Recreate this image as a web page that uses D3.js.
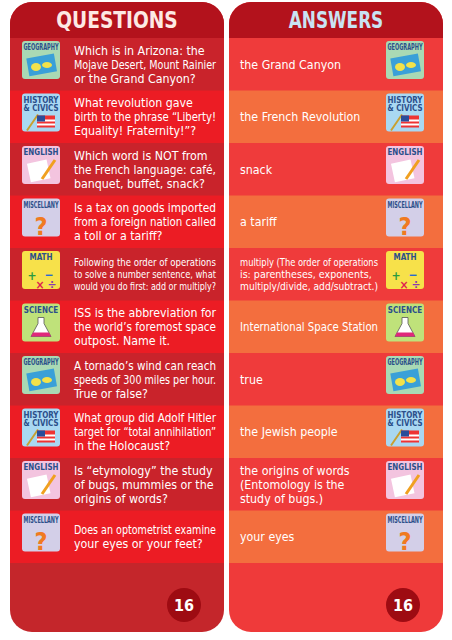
<!DOCTYPE html>
<html><head><meta charset="utf-8">
<script src="https://cdn.jsdelivr.net/npm/d3@7"></script>
<style>body{margin:0;background:#fff}text{font-family:"Liberation Sans Narrow","DejaVu Sans Condensed","Liberation Sans",sans-serif}</style>
</head><body>
<svg id="card" width="452" height="640"></svg>
<script>
var categories = ["GEOGRAPHY","HISTORY & CIVICS","ENGLISH","MISCELLANY","MATH","SCIENCE","GEOGRAPHY","HISTORY & CIVICS","ENGLISH","MISCELLANY"];
var questions = [
  ["Which is in Arizona: the","Mojave Desert, Mount Rainier","or the Grand Canyon?"],
  ["What revolution gave","birth to the phrase \u201cLiberty!","Equality! Fraternity!\u201d?"],
  ["Which word is NOT from","the French language: caf\u00e9,","banquet, buffet, snack?"],
  ["Is a tax on goods imported","from a foreign nation called","a toll or a tariff?"],
  ["Following the order of operations","to solve a number sentence, what","would you do first: add or multiply?"],
  ["ISS is the abbreviation for","the world\u2019s foremost space","outpost. Name it."],
  ["A tornado\u2019s wind can reach","speeds of 300 miles per hour.","True or false?"],
  ["What group did Adolf Hitler","target for \u201ctotal annihilation\u201d","in the Holocaust?"],
  ["Is \u201cetymology\u201d the study","of bugs, mummies or the","origins of words?"],
  ["Does an optometrist examine","your eyes or your feet?"]
];
var answers = [
  ["the Grand Canyon"],
  ["the French Revolution"],
  ["snack"],
  ["a tariff"],
  ["multiply (The order of operations","is: parentheses, exponents,","multiply/divide, add/subtract.)"],
  ["International Space Station"],
  ["true"],
  ["the Jewish people"],
  ["the origins of words","(Entomology is the","study of bugs.)"],
  ["your eyes"]
];
var cardNumber = "16";

var iconColor = {"GEOGRAPHY":"#a9d9b4","HISTORY & CIVICS":"#a9d8f2","ENGLISH":"#f3c4df","MISCELLANY":"#d3cfe8","MATH":"#f7e14a","SCIENCE":"#bfe27a"};

var svg = d3.select("#card");
var y = d3.scaleBand().domain(d3.range(categories.length)).range([38, 563]).padding(0);

function panel(x0, w, title, headFill, rowFills, bottomFill, titleFill) {
  var g = svg.append("g");
  var clip = "clip" + x0;
  g.append("clipPath").attr("id", clip).append("rect").attr("x", x0).attr("y", 2).attr("width", w).attr("height", 630).attr("rx", 22);
  var inner = g.append("g").attr("clip-path", "url(#" + clip + ")");
  inner.append("rect").attr("x", x0).attr("y", 0).attr("width", w).attr("height", 640).attr("fill", bottomFill);
  inner.append("rect").attr("x", x0).attr("y", 0).attr("width", w).attr("height", 38).attr("fill", headFill);
  inner.selectAll(".row").data(categories).enter().append("rect")
    .attr("x", x0).attr("y", function(d, i) { return y(i); })
    .attr("width", w).attr("height", y.bandwidth())
    .attr("fill", function(d, i) { return rowFills[i % 2]; });
  g.append("text").attr("x", x0 + w / 2).attr("y", 28).attr("text-anchor", "middle")
    .attr("font-size", 23).attr("font-weight", "bold").attr("fill", titleFill)
    .attr("textLength", title.length * 13.5).attr("lengthAdjust", "spacingAndGlyphs").text(title);
  g.append("circle").attr("cx", x0 + w - 40).attr("cy", 605).attr("r", 17).attr("fill", "#9e0b12");
  g.append("text").attr("x", x0 + w - 40).attr("y", 611).attr("text-anchor", "middle")
    .attr("font-size", 16).attr("font-weight", "bold").attr("fill", "#fff").text(cardNumber);
  return g;
}

function fit(t, maxW) {
  var w = t.node().getComputedTextLength();
  if (w > maxW) t.attr("textLength", maxW).attr("lengthAdjust", "spacingAndGlyphs");
}

function icon(g, cat, x, yy) {
  var s = 38;
  g.append("rect").attr("x", x).attr("y", yy).attr("width", s).attr("height", s).attr("rx", 3).attr("fill", iconColor[cat]);
  var lines = cat.indexOf("&") > 0 ? ["HISTORY", "& CIVICS"] : [cat];
  lines.forEach(function(t, k) {
    var tx = g.append("text").attr("x", x + s / 2).attr("y", yy + 9 + k * 8).attr("text-anchor", "middle")
      .attr("font-size", 8).attr("font-weight", "bold").attr("fill", "#2b4f8a").text(t);
    fit(tx, 35);
  });
  var cx = x + s / 2, cy = yy + 26;
  if (cat === "GEOGRAPHY") {
    g.append("rect").attr("x", x + 6).attr("y", yy + 15).attr("width", 28).attr("height", 18).attr("fill", "#3aa0d8").attr("transform", "rotate(-10," + cx + "," + cy + ")");
    g.append("ellipse").attr("cx", cx - 5).attr("cy", cy).attr("rx", 5).attr("ry", 4).attr("fill", "#f3e24a");
    g.append("ellipse").attr("cx", cx + 6).attr("cy", cy - 2).attr("rx", 5).attr("ry", 3).attr("fill", "#f3e24a");
  } else if (cat === "HISTORY & CIVICS") {
    g.append("line").attr("x1", x + 5).attr("y1", yy + 37).attr("x2", x + 16).attr("y2", yy + 21).attr("stroke", "#c8a030").attr("stroke-width", 2);
    g.append("rect").attr("x", x + 15).attr("y", yy + 22).attr("width", 18).attr("height", 12).attr("fill", "#e33");
    g.append("rect").attr("x", x + 15).attr("y", yy + 26).attr("width", 18).attr("height", 2).attr("fill", "#fff");
    g.append("rect").attr("x", x + 15).attr("y", yy + 30).attr("width", 18).attr("height", 2).attr("fill", "#fff");
    g.append("rect").attr("x", x + 15).attr("y", yy + 22).attr("width", 8).attr("height", 6).attr("fill", "#2a4c9a");
  } else if (cat === "ENGLISH") {
    g.append("rect").attr("x", x + 7).attr("y", yy + 15).attr("width", 20).attr("height", 19).attr("fill", "#fff").attr("transform", "rotate(-12," + cx + "," + cy + ")");
    g.append("line").attr("x1", x + 33).attr("y1", yy + 14).attr("x2", x + 20).attr("y2", yy + 33).attr("stroke", "#f0a020").attr("stroke-width", 3);
  } else if (cat === "MISCELLANY") {
    g.append("text").attr("x", cx).attr("y", yy + 36).attr("text-anchor", "middle").attr("font-size", 25).attr("font-weight", "bold").attr("fill", "#f07a20").text("?");
  } else if (cat === "MATH") {
    [["+", -9, 0, "#2a9a40"], ["\u2212", 8, -1, "#2a6ad0"], ["\u00d7", -1, 9, "#e02050"], ["\u00f7", 11, 9, "#8a3ab0"]].forEach(function(m) {
      g.append("text").attr("x", cx + m[1]).attr("y", cy + m[2] + 3).attr("text-anchor", "middle").attr("font-size", 12).attr("font-weight", "bold").attr("fill", m[3]).text(m[0]);
    });
  } else if (cat === "SCIENCE") {
    g.append("path").attr("d", "M" + (cx - 3) + "," + (yy + 14) + "h6v6l7,13h-20l7,-13z").attr("fill", "#fff").attr("stroke", "#555").attr("stroke-width", 0.8);
    g.append("path").attr("d", "M" + (cx - 8) + "," + (yy + 29) + "h16l2,4h-20z").attr("fill", "#e0287a");
  }
}

function rowText(g, lines, x, i, maxW) {
  var fs = lines[0].length > 30 ? 10.6 : 12.3;
  var lh = fs * 1.14;
  var c = y(i) + y.bandwidth() / 2 - (lines.length - 1) * lh / 2 + fs * 0.36;
  lines.forEach(function(l, k) {
    var t = g.append("text").attr("fill", "#fff").attr("font-size", fs).attr("x", x).attr("y", c + k * lh).text(l);
    fit(t, maxW);
  });
}

var left = panel(10, 214, "QUESTIONS", "#b3121c", ["#c9232b", "#ec1c24"], "#c4262b", "#fde9e4");
var right = panel(229, 214, "ANSWERS", "#b3121c", ["#ef3b3b", "#f36e3e"], "#ef3a3a", "#c9e3f3");

categories.forEach(function(cat, i) {
  icon(left, cat, 22, y(i) + 3);
  icon(right, cat, 386, y(i) + 3);
  rowText(left, questions[i], 74, i, 142);
  rowText(right, answers[i], 240, i, 138);
});
</script>
</body></html>
